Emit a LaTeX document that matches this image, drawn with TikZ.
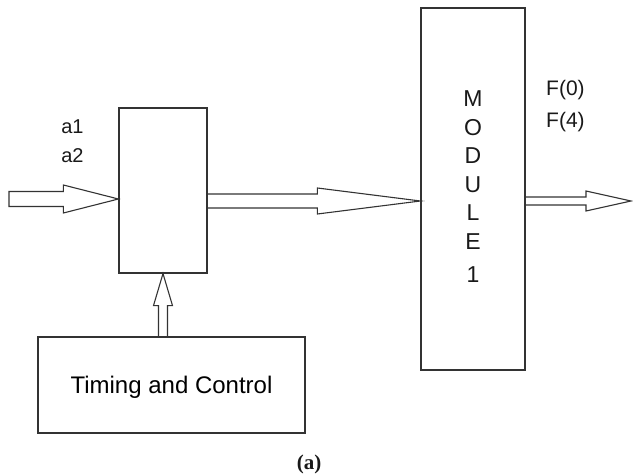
\documentclass[tikz,border=0pt]{standalone}
\usepackage{fontspec}
\setmainfont{Liberation Sans}
\newfontfamily\capfont{Liberation Serif}
\usetikzlibrary{calc}

\tikzset{
  blk/.style={draw=black!80, line width=1.2pt, inner sep=0pt},
  lbl/.style={inner sep=0pt, text=black!90},
  fat/.style={draw=black!80, line width=1.1pt, line join=miter},
}

% hollow block arrow, left to right: [end], start, tip, shaft half, head half, head length
\newcommand{\harrow}[6][]{%
  \draw[fat] let \p1=(#2), \p2=(#3) in
    (\x1,\y1+#4) -- (\x2-#6,\y1+#4) -- (\x2-#6,\y1+#5) -- (\x2,\y2)
    -- (\x2-#6,\y1-#5) -- (\x2-#6,\y1-#4) -- (\x1,\y1-#4) #1;}
% same, pointing up
\newcommand{\varrow}[5]{%
  \draw[fat] let \p1=(#1), \p2=(#2) in
    (\x1-#3,\y1) -- (\x1-#3,\y2-#5) -- (\x1-#4,\y2-#5) -- (\x2,\y2)
    -- (\x1+#4,\y2-#5) -- (\x1+#3,\y2-#5) -- (\x1+#3,\y1);}

\begin{document}
\begin{tikzpicture}[x=1pt, y=-1pt]
  \useasboundingbox (0,0) rectangle (633,476);

  % boxes
  \node[blk, minimum width=88pt, minimum height=165pt] (sel) at (163,190.5) {};
  \node[blk, minimum width=104pt, minimum height=362pt] (mod) at (473,189) {};
  \node[blk, minimum width=267pt, minimum height=96pt, text depth=0pt,
        font=\fontsize{24}{28}\selectfont] (tc) at (171.5,385) {Timing and Control};

  % module label, one letter per line
  \foreach \ch [count=\i] in {M,O,D,U,L,E}
    \node[lbl, font=\fontsize{23}{28}\selectfont] (m\i) at (473,{98.5+28.6*(\i-1)}) {\ch};
  \node[lbl, font=\fontsize{23}{28}\selectfont] (m7) at (473,275) {1};

  % signal names
  \node[lbl, font=\fontsize{20}{24}\selectfont] (a1) at (72.5,127) {a1};
  \node[lbl, font=\fontsize{20}{24}\selectfont] (a2) at (72.5,156) {a2};
  \node[lbl, font=\fontsize{21}{25}\selectfont, anchor=base west] (f0) at (546,96) {F(0)};
  \node[lbl, font=\fontsize{21}{25}\selectfont, anchor=base west] (f4) at (546,128) {F(4)};

  % arrows
  \coordinate (in) at (9,199);
  \coordinate (out) at (631,201);
  \harrow[-- cycle]{in}{sel.west |- in}{7.5pt}{14pt}{55pt}
  \harrow{sel.east |- out}{mod.west |- out}{7pt}{13pt}{103pt}
  \harrow{mod.east |- out}{out}{4pt}{10pt}{45pt}
  \varrow{sel.south |- tc.north}{sel.south}{4.5pt}{9.5pt}{32pt}

  \node[lbl, font=\capfont\bfseries\fontsize{21}{25}\selectfont] (cap) at (309,464) {(a)};
\end{tikzpicture}
\end{document}
